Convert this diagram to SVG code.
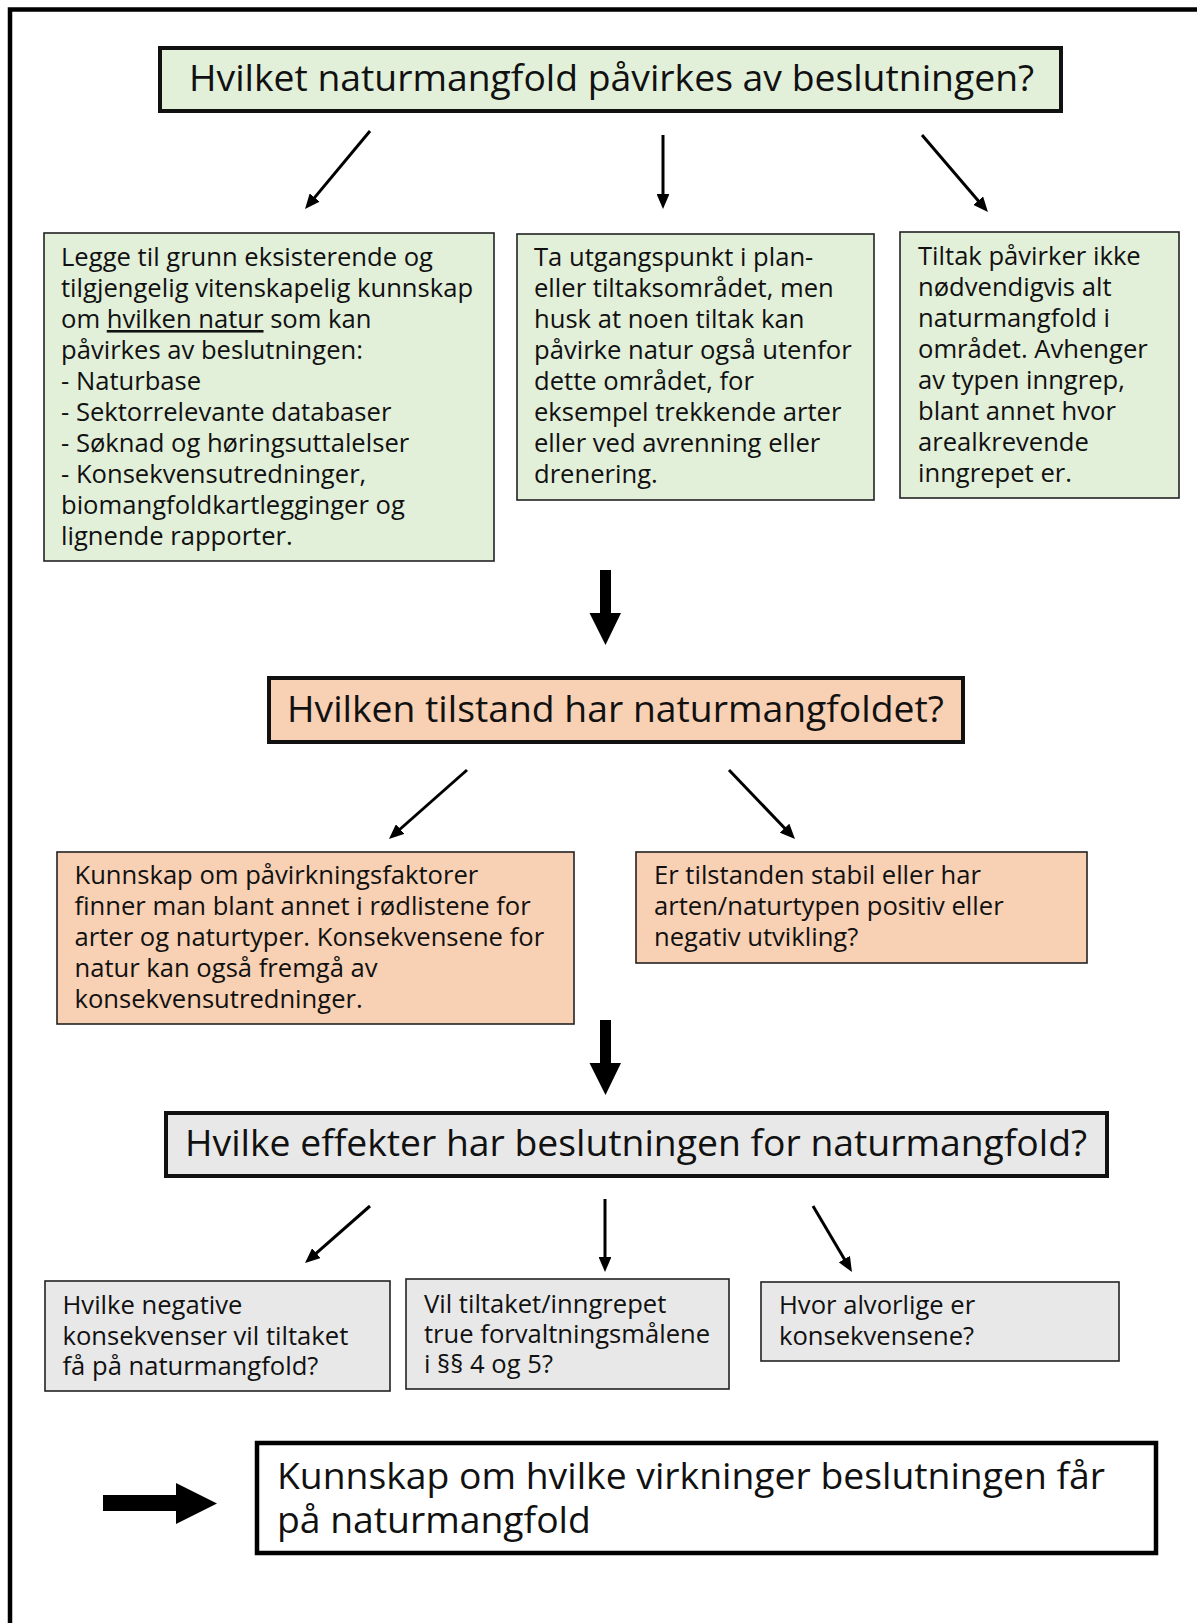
<svg xmlns="http://www.w3.org/2000/svg" width="1197" height="1623" viewBox="0 0 1197 1623">
<style>
text{font-family:"Open Sans","Liberation Sans",sans-serif;fill:#111}
.title{font-size:37.3px}
.body{font-size:25.6px}
.green{fill:#e2efd9}
.peach{fill:#f8d0b3}
.gray{fill:#e8e8e8}
.thick{stroke:#111;stroke-width:4}
.thin{stroke:#222;stroke-width:1.6}
.conn line{stroke:#000;stroke-width:3;marker-end:url(#ah)}
</style>
<defs>
<marker id="ah" viewBox="0 0 5 4.3" refX="2" refY="2.15" markerWidth="5" markerHeight="4.3" orient="auto" markerUnits="strokeWidth">
<path d="M0,0 L5,2.15 L0,4.3 z" fill="#000"/>
</marker>
</defs>
<rect width="1197" height="1623" fill="#fff"/>
<path d="M10,1623 V9.5 H1197" fill="none" stroke="#000" stroke-width="4.5"/>

<g id="q1">
<rect class="green thick" x="160" y="48" width="901" height="63"/>
<text class="title" x="189" y="91">Hvilket naturmangfold påvirkes av beslutningen?</text>
</g>

<g id="a1">
<rect class="green thin" x="44" y="233" width="450" height="328"/>
<text class="body" x="61">
<tspan x="61" y="266">Legge til grunn eksisterende og</tspan>
<tspan x="61" y="297">tilgjengelig vitenskapelig kunnskap</tspan>
<tspan x="61" y="328">om <tspan text-decoration="underline">hvilken natur</tspan> som kan</tspan>
<tspan x="61" y="359">påvirkes av beslutningen:</tspan>
<tspan x="61" y="390">- Naturbase</tspan>
<tspan x="61" y="421">- Sektorrelevante databaser</tspan>
<tspan x="61" y="452">- Søknad og høringsuttalelser</tspan>
<tspan x="61" y="483">- Konsekvensutredninger,</tspan>
<tspan x="61" y="514">biomangfoldkartlegginger og</tspan>
<tspan x="61" y="545">lignende rapporter.</tspan>
</text>
</g>

<g id="a2">
<rect class="green thin" x="517" y="234" width="357" height="266"/>
<text class="body">
<tspan x="534" y="266">Ta utgangspunkt i plan-</tspan>
<tspan x="534" y="297">eller tiltaksområdet, men</tspan>
<tspan x="534" y="328">husk at noen tiltak kan</tspan>
<tspan x="534" y="359">påvirke natur også utenfor</tspan>
<tspan x="534" y="390">dette området, for</tspan>
<tspan x="534" y="421">eksempel trekkende arter</tspan>
<tspan x="534" y="452">eller ved avrenning eller</tspan>
<tspan x="534" y="483">drenering.</tspan>
</text>
</g>

<g id="a3">
<rect class="green thin" x="900" y="232" width="279" height="266"/>
<text class="body">
<tspan x="918" y="265">Tiltak påvirker ikke</tspan>
<tspan x="918" y="296">nødvendigvis alt</tspan>
<tspan x="918" y="327">naturmangfold i</tspan>
<tspan x="918" y="358">området. Avhenger</tspan>
<tspan x="918" y="389">av typen inngrep,</tspan>
<tspan x="918" y="420">blant annet hvor</tspan>
<tspan x="918" y="451">arealkrevende</tspan>
<tspan x="918" y="482">inngrepet er.</tspan>
</text>
</g>

<g id="q2">
<rect class="peach thick" x="269" y="678" width="694" height="64"/>
<text class="title" x="287" y="722">Hvilken tilstand har naturmangfoldet?</text>
</g>

<g id="b1">
<rect class="peach thin" x="57" y="852" width="517" height="172"/>
<text class="body">
<tspan x="74.5" y="884">Kunnskap om påvirkningsfaktorer</tspan>
<tspan x="74.5" y="915">finner man blant annet i rødlistene for</tspan>
<tspan x="74.5" y="946">arter og naturtyper. Konsekvensene for</tspan>
<tspan x="74.5" y="977">natur kan også fremgå av</tspan>
<tspan x="74.5" y="1008">konsekvensutredninger.</tspan>
</text>
</g>

<g id="b2">
<rect class="peach thin" x="636" y="852" width="451" height="111"/>
<text class="body">
<tspan x="654" y="884">Er tilstanden stabil eller har</tspan>
<tspan x="654" y="915">arten/naturtypen positiv eller</tspan>
<tspan x="654" y="946">negativ utvikling?</tspan>
</text>
</g>

<g id="q3">
<rect class="gray thick" x="166" y="1113" width="941" height="63"/>
<text class="title" x="185" y="1156">Hvilke effekter har beslutningen for naturmangfold?</text>
</g>

<g id="c1">
<rect class="gray thin" x="45" y="1281" width="345" height="110"/>
<text class="body">
<tspan x="62.5" y="1314">Hvilke negative</tspan>
<tspan x="62.5" y="1344.5">konsekvenser vil tiltaket</tspan>
<tspan x="62.5" y="1375">få på naturmangfold?</tspan>
</text>
</g>

<g id="c2">
<rect class="gray thin" x="406" y="1279" width="323" height="110"/>
<text class="body">
<tspan x="424" y="1313">Vil tiltaket/inngrepet</tspan>
<tspan x="424" y="1343">true forvaltningsmålene</tspan>
<tspan x="424" y="1373">i §§ 4 og 5?</tspan>
</text>
</g>

<g id="c3">
<rect class="gray thin" x="761" y="1282" width="358" height="79"/>
<text class="body">
<tspan x="779" y="1314">Hvor alvorlige er</tspan>
<tspan x="779" y="1344.5">konsekvensene?</tspan>
</text>
</g>

<g id="result">
<rect x="257" y="1443" width="899" height="110" fill="#fff" stroke="#000" stroke-width="4.5"/>
<text class="title">
<tspan x="277" y="1489">Kunnskap om hvilke virkninger beslutningen får</tspan>
<tspan x="277" y="1533">på naturmangfold</tspan>
</text>
</g>

<g id="connectors">
<g class="conn">
<line x1="370" y1="131" x2="310.8" y2="202.1"/>
<line x1="663" y1="135" x2="663" y2="200"/>
<line x1="922" y1="135" x2="982.1" y2="205.2"/>
<line x1="467" y1="770" x2="395.7" y2="833"/>
<line x1="729" y1="770" x2="788.8" y2="832.5"/>
<line x1="370" y1="1206" x2="311.8" y2="1257.1"/>
<line x1="605" y1="1199" x2="605" y2="1263"/>
<line x1="813" y1="1206" x2="847.4" y2="1264.3"/>
</g>
<polygon points="600,570 611,570 611,613 621,613 605.5,645 589.5,613 600,613" fill="#000"/>
<polygon points="600,1020 611,1020 611,1063 621,1063 605.5,1095 589.5,1063 600,1063" fill="#000"/>
<polygon points="103,1495 176,1495 176,1483 217,1503.5 176,1524 176,1511 103,1511" fill="#000"/>
</g>
</svg>
